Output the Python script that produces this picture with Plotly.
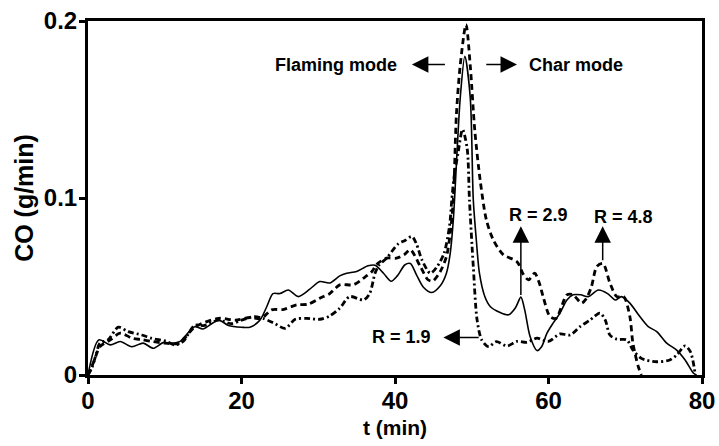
import plotly.graph_objects as go

# R = 2.9 (solid)
t_r29 = [0, 1.4, 2.9, 4.2, 5.7, 7.2, 8.5, 9.8, 10.9, 12, 12.6, 13.9, 15, 17, 18.3, 20,
         21.1, 22.4, 23.3, 24.1, 25, 26.1, 27.4, 28.9, 30.2, 31.5, 32.8, 33.7, 35, 36.5,
         37.4, 38.5, 39.5, 40.3, 41.3, 42, 42.8, 43.7, 44.8, 45.9, 46.7, 47.2, 47.6, 48,
         48.5, 49.1, 49.8, 50.2, 50.6, 51, 51.7, 52.4, 53.7, 54.8, 55.7, 56.4, 56.9, 57.6,
         58.5, 59.1, 59.8, 60.6, 61.5, 62.4, 63.2, 64.2, 65.2, 66.5, 67.7, 68.7, 69.5,
         70.6, 71.9, 73, 74.1, 75.4, 76.7, 77.8, 78.9, 79.3]
co_r29 = [0, 0.0198, 0.017, 0.0189, 0.016, 0.018, 0.0151, 0.0183, 0.018, 0.019, 0.0217,
          0.0273, 0.026, 0.031, 0.028, 0.027, 0.027, 0.031, 0.0387, 0.046, 0.046, 0.048,
          0.0443, 0.0485, 0.0528, 0.052, 0.056, 0.0575, 0.0585, 0.0617, 0.062, 0.0575,
          0.053, 0.056, 0.0623, 0.063, 0.0566, 0.0496, 0.0466, 0.0504, 0.0575, 0.0689,
          0.0877, 0.119, 0.1566, 0.180, 0.157, 0.099, 0.076, 0.0575, 0.0443, 0.0387,
          0.0353, 0.034, 0.038, 0.044, 0.0368, 0.0217, 0.0138, 0.016, 0.0236, 0.0293,
          0.035, 0.0424, 0.0453, 0.0453, 0.0443, 0.048, 0.046, 0.0424, 0.0443, 0.0406,
          0.033, 0.0273, 0.0245, 0.018, 0.0141, 0.0085, 0.001, 0]

# R = 4.8 (dashed)
t_r48 = [0, 0.8, 1.56, 2.9, 4.2, 5.8, 7, 8.3, 10, 11.9, 13.9, 17, 19.2, 21.1, 22.6, 23.9,
         25.4, 27.2, 28.7, 30.2, 31.5, 32.8, 34.6, 35.9, 37, 37.6, 38.9, 40.2, 41.2, 42,
         43.3, 44.3, 44.9, 45.9, 46.7, 47.2, 47.6, 48, 48.5, 49.25, 49.8, 50.4, 51.1,
         51.9, 52.8, 54.1, 55.9, 56.7, 57.4, 58.2, 58.8, 59.3, 60.2, 61, 61.7, 62.4, 63.2,
         64.3, 64.9, 65.6, 66.3, 67.1, 68, 68.9, 69.8, 70.6, 71, 71.7, 72.1]
co_r48 = [0, 0.008, 0.016, 0.0198, 0.0236, 0.0207, 0.02, 0.019, 0.018, 0.018, 0.027,
          0.032, 0.031, 0.0325, 0.032, 0.0368, 0.037, 0.0396, 0.040, 0.0434, 0.046, 0.0509,
          0.051, 0.0547, 0.0585, 0.0625, 0.066, 0.066, 0.068, 0.0707, 0.0613, 0.0538,
          0.053, 0.0585, 0.0669, 0.0801, 0.099, 0.147, 0.175, 0.198, 0.175, 0.138, 0.110,
          0.0877, 0.0764, 0.068, 0.064, 0.057, 0.0538, 0.0575, 0.052, 0.0443, 0.033, 0.032,
          0.0387, 0.0453, 0.0453, 0.0406, 0.043, 0.05, 0.0613, 0.063, 0.052, 0.0443,
          0.0443, 0.033, 0.018, 0.0047, 0]

# R = 1.9 (dash-dot)
t_r19 = [0, 0.5, 1.1, 1.56, 2.6, 3.95, 5.25, 7, 8.3, 10.2, 11.3, 12.4, 13.9, 15.2, 17,
         18.7, 20, 21.7, 22.8, 24.1, 25.7, 27, 28.5, 30.2, 31.5, 32.8, 34.1, 35.9, 36.7,
         37.4, 37.9, 38.9, 40.4, 41.3, 42.2, 42.8, 43.5, 44.6, 45.5, 46.4, 47.1, 47.4,
         47.7, 48.2, 48.8, 49.4, 49.7, 50.2, 50.7, 51.3, 52.2, 53.2, 54.6, 55.9, 57.2,
         58.5, 60, 61.5, 62.8, 64.1, 65.4, 66.7, 67.4, 68, 68.9, 70.2, 71, 72.1, 74.1,
         75.8, 76.7, 77.8, 78.5, 79.1]
co_r19 = [0, 0.004, 0.0123, 0.018, 0.0198, 0.027, 0.0245, 0.0226, 0.0207, 0.019, 0.017,
          0.019, 0.028, 0.028, 0.031, 0.029, 0.031, 0.033, 0.032, 0.0296, 0.0264, 0.0315,
          0.032, 0.0315, 0.0334, 0.0377, 0.0443, 0.0424, 0.046, 0.0575, 0.062, 0.066,
          0.074, 0.076, 0.0783, 0.074, 0.0651, 0.0575, 0.0613, 0.0689, 0.084, 0.099,
          0.112, 0.125, 0.1387, 0.128, 0.099, 0.0613, 0.031, 0.0198, 0.016, 0.0189,
          0.0164, 0.019, 0.0185, 0.0208, 0.019, 0.0232, 0.0226, 0.0273, 0.031, 0.035,
          0.031, 0.0226, 0.0202, 0.0198, 0.0141, 0.0094, 0.0075, 0.0085, 0.0113, 0.0164,
          0.013, 0.001]

x_ticks = [0, 20, 40, 60, 80]
y_ticks = [0, 0.1, 0.2]
y_tick_labels = ["0", "0.1", "0.2"]

FONT = "Liberation Sans, Arial, sans-serif"

fig = go.Figure()
fig.add_trace(go.Scatter(x=t_r29, y=co_r29, mode="lines", name="R = 2.9",
                         line=dict(color="black", width=1.6, shape="spline", smoothing=0.8)))
fig.add_trace(go.Scatter(x=t_r48, y=co_r48, mode="lines", name="R = 4.8",
                         line=dict(color="black", width=2.8, dash="6px,4px",
                                   shape="spline", smoothing=0.8)))
fig.add_trace(go.Scatter(x=t_r19, y=co_r19, mode="lines", name="R = 1.9",
                         line=dict(color="black", width=2.8, dash="6px,3px,2px,3px",
                                   shape="spline", smoothing=0.8)))

def arrow(x, y, ax, ay):
    fig.add_annotation(x=x, y=y, ax=ax, ay=ay, xref="x", yref="y", axref="x", ayref="y",
                       text="", showarrow=True, arrowhead=2, arrowsize=2.2,
                       arrowwidth=1.5, arrowcolor="black", standoff=0, startstandoff=0)

def label(x, y, txt, xanchor="center"):
    fig.add_annotation(x=x, y=y, xref="x", yref="y", text=txt, showarrow=False,
                       xanchor=xanchor, yanchor="middle",
                       font=dict(family=FONT, size=18, color="black", weight="bold"))

label(32.3, 0.1754, "Flaming mode")
arrow(42.2, 0.1754, 46.7, 0.1754)
arrow(55.9, 0.1754, 51.7, 0.1754)
label(63.6, 0.1754, "Char mode")
label(40.9, 0.0212, "R = 1.9")
arrow(46.3, 0.0212, 51.1, 0.0212)
label(58.7, 0.0905, "R = 2.9")
arrow(56.4, 0.084, 56.4, 0.0443)
label(69.8, 0.0890, "R = 4.8")
arrow(67.06, 0.084, 67.06, 0.064)

axis_common = dict(showgrid=False, zeroline=False, showline=True, linecolor="black",
                   linewidth=3, mirror=True, ticks="outside", ticklen=6, tickwidth=2.5,
                   tickcolor="black", automargin=False,
                   tickfont=dict(family=FONT, size=24, color="black", weight="bold"))

fig.update_xaxes(range=[0, 80], tickvals=x_ticks, ticklabelstandoff=-4,
                 title=dict(text="t (min)", standoff=8,
                            font=dict(family=FONT, size=21, color="black", weight="bold")),
                 **axis_common)
fig.update_yaxes(range=[0, 0.2], tickvals=y_ticks, ticktext=y_tick_labels,
                 ticklabelstandoff=-3,
                 title=dict(text="CO (g/min)", standoff=4,
                            font=dict(family=FONT, size=25, color="black", weight="bold")),
                 **axis_common)

fig.update_layout(width=719, height=446, showlegend=False,
                  paper_bgcolor="white", plot_bgcolor="white",
                  margin=dict(l=88, r=17, t=21, b=71))

fig.write_html("out.html", config={"displayModeBar": False},
               post_script="document.body.style.margin='0px';document.body.style.overflow='hidden';")
